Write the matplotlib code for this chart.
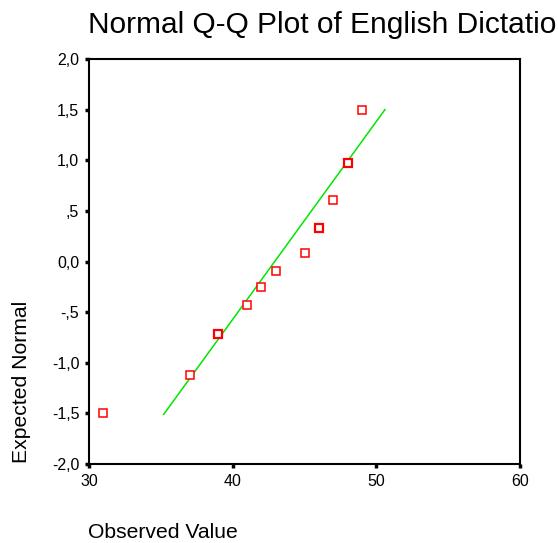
import matplotlib
matplotlib.use("Agg")
import matplotlib.pyplot as plt

plt.rcParams['font.family'] = ['Liberation Sans', 'DejaVu Sans']

# Data
observed = [31, 37, 39, 41, 42, 43, 45, 46, 47, 48, 49]
expected = [-1.50, -1.12, -0.72, -0.43, -0.25, -0.09, 0.08, 0.33, 0.61, 0.97, 1.50]
counts = [1, 1, 2, 1, 1, 1, 1, 2, 1, 2, 1]
line_x = [35.2, 50.6]
line_y = [-1.51, 1.50]

x_ticks = [30, 40, 50, 60]
y_ticks = [-2.0, -1.5, -1.0, -0.5, 0.0, 0.5, 1.0, 1.5, 2.0]
y_ticklabels = ["-2,0", "-1,5", "-1,0", "-,5", "0,0", ",5", "1,0", "1,5", "2,0"]

title = "Normal Q-Q Plot of English Dictation"
xlabel = "Observed Value"
ylabel = "Expected Normal"

fig = plt.figure(figsize=(5.58, 5.43), dpi=100)
ax = fig.add_axes([89/558, 1-464/543, (520-89)/558, (464-59)/543])

ax.plot(line_x, line_y, color='#00e600', lw=1.1, zorder=2)
for x, y, c in zip(observed, expected, counts):
    ax.plot([x], [y], marker='s', ms=5.5, mfc='white', mec='#ff0000',
            mew=1.1 if c == 1 else 1.6, ls='none', zorder=3)

ax.set_xlim(30, 60)
ax.set_ylim(-2.0, 2.0)
ax.set_xticks(x_ticks)
ax.set_xticklabels([str(t) for t in x_ticks])
ax.set_yticks(y_ticks)
ax.set_yticklabels(y_ticklabels)
ax.tick_params(direction='out', length=3, width=2.5, labelsize=11.5, pad=4, color='black')
for s in ax.spines.values():
    s.set_linewidth(1.5)
    s.set_color('black')

fig.text(88/558, 1-33/543, title, fontsize=21.5, ha='left', va='baseline')
fig.text(88/558, 1-538/543, xlabel, fontsize=15.2, ha='left', va='baseline')
fig.text(22/558, 1-463/543, ylabel, fontsize=15.2, ha='center', va='bottom', rotation=90)

fig.savefig("out.png", dpi=100)
